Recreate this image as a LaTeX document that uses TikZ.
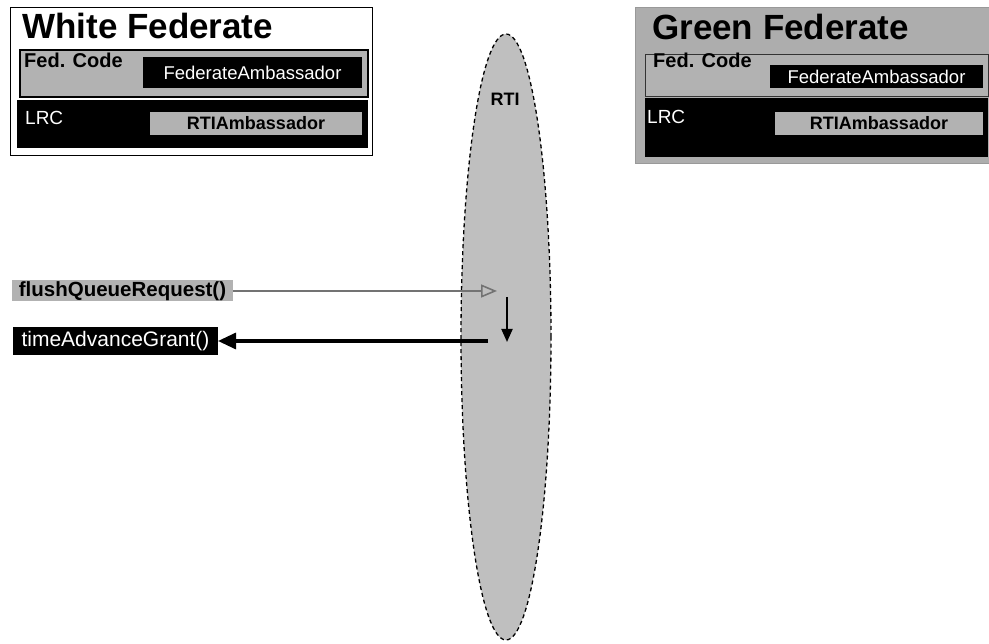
\documentclass[tikz,border=0pt]{standalone}
\usepackage{fontspec}
\setmainfont{Liberation Sans}
\usetikzlibrary{shapes.geometric,arrows.meta}
\tikzset{
  box/.style={rectangle, inner sep=0pt, outer sep=0pt},
  halftone/.style={fill=black!30},
  titletxt/.style={font=\fontsize{35}{37}\selectfont\bfseries, inner sep=0pt, anchor=base west},
  smalltxt/.style={font=\fontsize{18.5}{20}\selectfont, inner sep=0pt},
  msgtxt/.style={font=\fontsize{21}{23}\selectfont, inner sep=0pt},
  boldtxt/.style={font=\fontsize{18}{20}\selectfont\bfseries, inner sep=0pt},
  labeltxt/.style={font=\fontsize{20}{22}\selectfont\bfseries, inner sep=0pt, anchor=base west},
}
\begin{document}
\begin{tikzpicture}[x=1pt,y=-1pt]
\useasboundingbox (0,0) rectangle (989,644);
% RTI ellipse
\node[ellipse, draw=black, line width=1.3pt, dash pattern=on 4pt off 3pt, fill=black!25,
      minimum width=90pt, minimum height=606pt, inner sep=0pt] (rti) at (506,337) {};
\node[boldtxt, font=\fontsize{18}{20}\selectfont\bfseries] (rtilabel) at (505,99) {RTI};

% White Federate
\node[box, draw=black, line width=0.6pt, fill=white, minimum width=362pt, minimum height=148pt] (wfed) at (191,81) {};
\node[titletxt] (wtitle) at (22,39) {White Federate};
\node[box, draw=black, line width=1.2pt, halftone, minimum width=348pt, minimum height=47pt] (wcode) at (194,73.5) {};
\node[labeltxt] (wcodelbl) at (24,68) {Fed. Code};
\node[box, fill=black, text=white, smalltxt, minimum width=219pt, minimum height=31pt] (wfamb) at (252.5,72.5) {FederateAmbassador};
\node[box, fill=black, minimum width=351pt, minimum height=48pt] (wlrc) at (192.5,124) {};
\node[smalltxt, font=\fontsize{19}{21}\selectfont, text=white, anchor=base west] (wlrclbl) at (25,125) {LRC};
\node[box, halftone, boldtxt, minimum width=212pt, minimum height=23pt] (wramb) at (256,123.5) {RTIAmbassador};

% Green Federate
\node[box, draw=black!40, fill=black!32, minimum width=354pt, minimum height=156pt] (gfed) at (812,85) {};
\node[titletxt] (gtitle) at (652,40) {Green Federate};
\node[box, draw=black!80, line width=1pt, halftone, minimum width=343pt, minimum height=42pt] (gcode) at (816.5,76) {};
\node[labeltxt] (gcodelbl) at (653,68) {Fed. Code};
\node[box, fill=black, text=white, smalltxt, minimum width=213pt, minimum height=23pt] (gfamb) at (876.5,76.5) {FederateAmbassador};
\node[box, fill=black, minimum width=343pt, minimum height=59pt] (glrc) at (816.5,127.5) {};
\node[smalltxt, font=\fontsize{19}{21}\selectfont, text=white, anchor=base west] (glrclbl) at (647,124) {LRC};
\node[box, halftone, boldtxt, minimum width=208pt, minimum height=23pt] (gramb) at (879,123.5) {RTIAmbassador};

% Messages
\node[box, halftone, msgtxt, font=\fontsize{20.5}{22}\selectfont\bfseries, minimum width=221pt, minimum height=21pt] (flush) at (122.5,291) {flushQueueRequest()};
\node[box, fill=black, text=white, msgtxt, minimum width=205pt, minimum height=28pt] (tag) at (115.5,341) {timeAdvanceGrant()};

\coordinate (flushend) at (497,291);
\coordinate (downstart) at (507,297);
\coordinate (downend) at (507,342);
\coordinate (tagstart) at (488,341);

\draw[black!55, line width=1.6pt, -{Triangle[length=16pt, width=13pt, fill=black!20, open]}] (flush.east) -- (flushend);
\draw[black, line width=2pt, -{Triangle[length=13pt, width=11pt]}] (downstart) -- (downend);
\draw[black, line width=3.2pt, -{Triangle[length=18pt, width=16pt]}] (tagstart) -- (tag.east);
\end{tikzpicture}
\end{document}
